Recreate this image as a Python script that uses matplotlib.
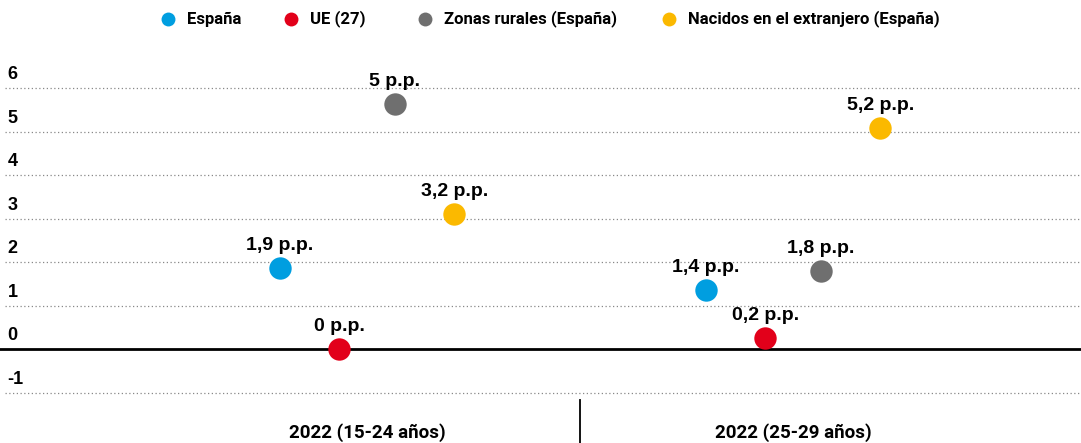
import numpy as np
import matplotlib.pyplot as plt
from matplotlib.lines import Line2D
from matplotlib.transforms import blended_transform_factory

# data
groups = ['2022 (15-24 años)', '2022 (25-29 años)']
series = ['España', 'UE (27)', 'Zonas rurales (España)', 'Nacidos en el extranjero (España)']
colors = ['#009ee0', '#e2001a', '#6f6f6f', '#fbb900']
values = np.array([[1.86, 0.0, 5.63, 3.1],      # 15-24
                   [1.36, 0.25, 1.79, 5.08]])   # 25-29
labels = [['1,9 p.p.', '0 p.p.', '5 p.p.', '3,2 p.p.'],
          ['1,4 p.p.', '0,2 p.p.', '1,8 p.p.', '5,2 p.p.']]
yticks = [-1, 0, 1, 2, 3, 4, 5, 6]

W, H = 1081, 443
fig = plt.figure(figsize=(W / 100, H / 100), dpi=100)
ax = fig.add_axes([0, 43 / H, 1, 340 / H])
ax.set_xlim(-0.861, 1.676)
ax.set_ylim(-1.172, 6.644)
ax.axis('off')

bold = dict(family=['Liberation Sans', 'DejaVu Sans'], fontweight='bold')
narrow = dict(family=['Liberation Sans Narrow', 'Roboto', 'DejaVu Sans'], fontweight='bold')

# gridlines and tick labels
for t in yticks:
    if t == 0:
        ax.axhline(0, color='black', lw=2, zorder=1)
    else:
        ax.plot([-0.85, 1.676], [t, t], color='#888888', lw=0.9, ls=(0, (1, 2)), zorder=0)
    ax.annotate(str(t), (0, t), xycoords=('axes fraction', 'data'), xytext=(5.5, 3.5),
                textcoords='offset points', ha='left', va='bottom', fontsize=13, **bold)

offsets = [-0.205, -0.065, 0.065, 0.205]
for g in range(len(groups)):
    for i in range(len(series)):
        x = g + offsets[i]
        ax.scatter(x, values[g, i], s=260, color=colors[i], zorder=3, clip_on=False, linewidths=0)
        ax.annotate(labels[g][i], (x, values[g, i]), xytext=(0, 10), textcoords='offset points',
                    ha='center', va='bottom', fontsize=14, **bold)

# group labels and separator
tr = blended_transform_factory(ax.transData, fig.transFigure)
fig.add_artist(Line2D([0.5, 0.5], [0, 43 / H], transform=tr, color='black', lw=1.3))
for g, name in enumerate(groups):
    fig.text(g, 10 / H, name, transform=tr, ha='center', va='center', fontsize=13.5, **narrow)

# legend
leg_x = [168, 291, 425, 669]
for i in range(len(series)):
    fig.add_artist(Line2D([leg_x[i] / W], [1 - 19 / H], transform=fig.transFigure, marker='o',
                          ms=10, color=colors[i], mec='none', ls='none'))
    fig.text((leg_x[i] + 19) / W, 1 - 19 / H, series[i], ha='left', va='center',
             fontsize=12, **narrow)

fig.savefig('out.png', dpi=100)
